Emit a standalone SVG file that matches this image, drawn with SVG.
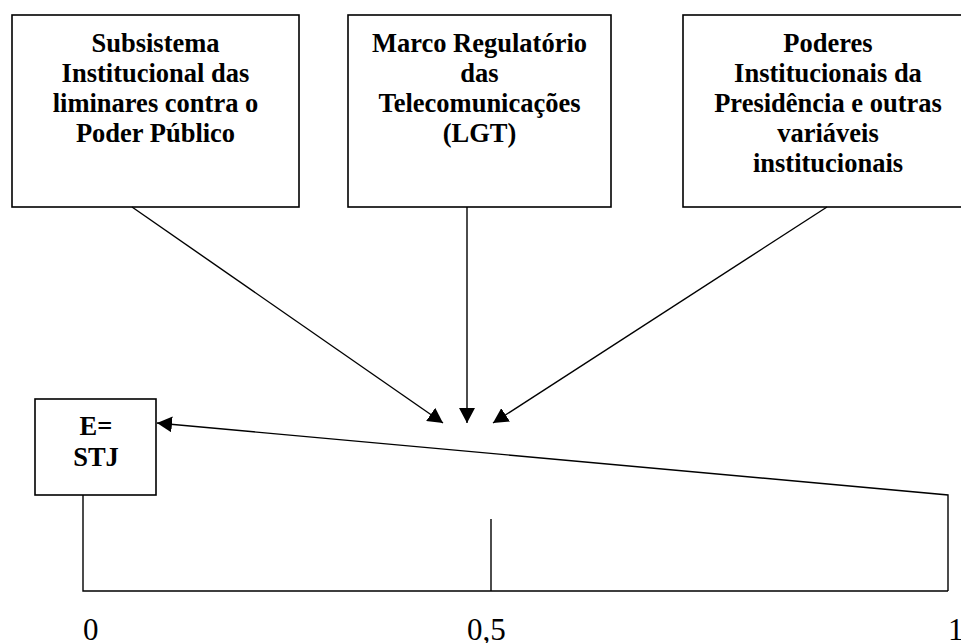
<svg xmlns="http://www.w3.org/2000/svg" width="961" height="643" viewBox="0 0 961 643">
  <style>
    .box { fill: #ffffff; stroke: #000000; stroke-width: 1.6; }
    .lbl { font-family: "Liberation Serif", "Times New Roman", serif; font-weight: bold; font-size: 26.5px; fill: #000000; text-anchor: middle; }
    .num { font-family: "Liberation Serif", "Times New Roman", serif; font-size: 31px; fill: #000000; }
    .ln { fill: none; stroke: #000000; stroke-width: 1.4; }
  </style>
  <defs>
    <marker id="arr" markerUnits="userSpaceOnUse" markerWidth="15" markerHeight="16" refX="15" refY="8" orient="auto" viewBox="0 0 15 16">
      <path d="M0,0 L15,8 L0,16 z" fill="#000000"/>
    </marker>
  </defs>
  <rect width="961" height="643" fill="#ffffff"/>

  <g id="node-subsistema">
    <rect class="box" x="12" y="15" width="287" height="192"/>
    <text class="lbl" x="155.5" y="52">Subsistema</text>
    <text class="lbl" x="155.5" y="82">Institucional das</text>
    <text class="lbl" x="155.5" y="112">liminares contra o</text>
    <text class="lbl" x="155.5" y="142">Poder Público</text>
  </g>

  <g id="node-marco">
    <rect class="box" x="348" y="15" width="263" height="192"/>
    <text class="lbl" x="479.5" y="52">Marco Regulatório</text>
    <text class="lbl" x="479.5" y="82">das</text>
    <text class="lbl" x="479.5" y="112">Telecomunicações</text>
    <text class="lbl" x="479.5" y="142">(LGT)</text>
  </g>

  <g id="node-poderes">
    <rect class="box" x="683" y="15" width="290" height="192"/>
    <text class="lbl" x="828" y="52">Poderes</text>
    <text class="lbl" x="828" y="82">Institucionais da</text>
    <text class="lbl" x="828" y="112">Presidência e outras</text>
    <text class="lbl" x="828" y="142">variáveis</text>
    <text class="lbl" x="828" y="172">institucionais</text>
  </g>

  <g id="node-stj">
    <rect class="box" x="35" y="399" width="121" height="96"/>
    <text class="lbl" x="96" y="435">E=</text>
    <text class="lbl" x="96" y="466">STJ</text>
  </g>

  <g id="connectors">
    <line class="ln" x1="132" y1="207" x2="443" y2="423" marker-end="url(#arr)"/>
    <line class="ln" x1="467" y1="207" x2="467" y2="423" marker-end="url(#arr)"/>
    <line class="ln" x1="827" y1="207" x2="493" y2="423" marker-end="url(#arr)"/>
    <polyline class="ln" points="948,591 948,495 157,423" marker-end="url(#arr)"/>
    <polyline class="ln" points="83,495 83,591 948,591"/>
    <line class="ln" x1="491" y1="519" x2="491" y2="591"/>
  </g>

  <g id="scale-labels">
    <text class="num" x="83" y="640">0</text>
    <text class="num" x="467" y="640">0,5</text>
    <text class="num" x="948" y="640">1</text>
  </g>
</svg>
